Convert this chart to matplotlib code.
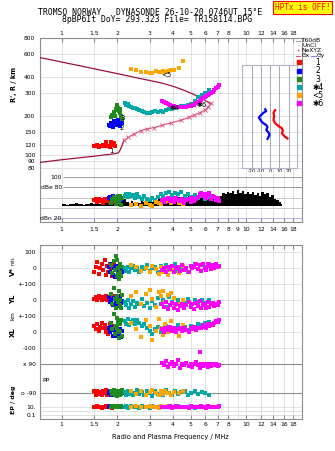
import numpy as np
import matplotlib
matplotlib.use("Agg")
from matplotlib import pyplot as plt
from matplotlib.ticker import NullLocator
from matplotlib.lines import Line2D

## ---- data ----
top_ticks = [1, 1.5, 2, 3, 4, 5, 6, 7, 8, 10, 12, 14, 16, 18]
mid_ticks = [1, 1.5, 2, 3, 4, 5, 6, 7, 8, 9, 10, 12, 14, 16, 18]
h_ticks = [80, 90, 100, 120, 150, 200, 300, 400, 600, 800]

# model / profile lines in the height panel
f_upper = [0.75, 1.0, 1.5, 2.0, 2.5, 3.0, 3.5, 4.0, 4.5, 5.0, 5.5, 6.0, 6.45]
h_upper = [568, 522, 463, 425, 397, 376, 359, 340, 320, 301, 283, 264, 248]
f_lower = [0.75, 1.0, 1.5, 1.9, 2.03, 2.08, 2.13, 2.18]
h_lower = [87.5, 92, 98, 102, 104, 110, 120, 130]
f_nexyz = [2.18, 2.3, 2.47, 2.68, 2.9, 3.17, 3.5, 3.92, 4.44, 4.9, 5.25, 5.6, 5.96, 6.25, 6.43]
h_nexyz = [130, 137, 145, 154, 159, 163, 170, 177, 186, 195, 203, 212, 222, 236, 250]

# echo clusters: freq MHz, height km, amplitude dB, V* m/s, YL km, XL km, PP deg, EP deg
f_red = [1.50, 1.53, 1.56, 1.59, 1.62, 1.65, 1.68, 1.71, 1.73, 1.76, 1.79, 1.82, 1.85, 1.88, 1.91, 1.94]
h_red = [118, 117, 119, 116, 118, 117, 119, 118, 125, 117, 118, 116, 126, 119, 124, 118]
db_red = [55, 57, 52, 58, 54, 56, 50, 57, 53, 58, 55, 52, 56, 54, 51, 57]
v_red = [-20, 10, 40, -35, 5, 25, -10, 50, -40, 15, -25, 30, 0, -45, 20, -5]
yl_red = [10, 20, 5, 25, 15, 0, 20, 10, 30, 5, 15, 20, 0, 10, 25, 15]
xl_red = [40, 20, 55, 10, 35, 60, 25, 45, 0, 30, -10, 50, 15, 40, 20, 5]
pp_red = [-80, -100, -75, -95, -85, -105, -80, -90, -70, -100, -85, -95, -80, -105, -90, -75]
ep_red = [9, 7, 12, 8, 10, 6, 11, 9, 13, 7, 10, 8, 12, 6, 9, 11]

f_blu = [1.80, 1.83, 1.86, 1.89, 1.92, 1.95, 1.98, 2.01, 2.04, 2.07, 2.10, 2.12]
h_blu = [172, 168, 178, 165, 182, 175, 170, 186, 178, 168, 190, 176]
db_blu = [60, 62, 58, 64, 60, 57, 62, 59, 55, 61, 58, 56]
v_blu = [10, -20, 25, -40, 0, -55, 15, -30, -10, -50, 5, -25]
yl_blu = [20, -10, 5, -30, 15, -20, 0, 25, -35, 10, -15, -5]
xl_blu = [30, 0, 40, -20, 15, -25, 35, 5, -10, 20, -28, 10]
pp_blu = [-90, -80, -100, -85, -95, -75, -105, -90, -82, -98, -88, -92]
ep_blu = [10, 12, 9, 11, 8, 13, 10, 9, 12, 10, 11, 9]

f_grn = [1.84, 1.88, 1.91, 1.94, 1.97, 2.00, 2.02, 2.04, 2.06, 2.08, 2.10, 2.12, 1.99, 2.03]
h_grn = [195, 205, 215, 200, 225, 243, 232, 218, 210, 228, 200, 190, 236, 222]
db_grn = [50, 58, 62, 55, 47, 60, 64, 52, 57, 63, 45, 59, 61, 54]
v_grn = [20, -30, 45, -10, 75, -50, 5, -65, 30, -20, -45, 10, 55, -35]
yl_grn = [40, -20, 80, 10, -45, 25, -10, 60, -30, 5, -50, 35, 15, -5]
xl_grn = [60, 20, 115, -10, 40, 90, 0, -35, 50, 10, 75, -20, 30, 65]
pp_grn = [-80, -95, -70, -100, -85, -110, -75, -90, -105, -80, -95, -70, -88, -100]
ep_grn = [10, 12, 8, 15, 9, 11, 7, 13, 10, 9, 12, 8, 14, 10]

f_tea = [2.20, 2.24, 2.28, 2.33, 2.38, 2.44, 2.50, 2.57, 2.64, 2.72, 2.80, 2.90, 3.00, 3.10, 3.20, 3.32,
         3.44, 3.56, 3.68, 3.82, 3.96, 4.12, 4.28, 4.46, 4.65, 4.85, 5.05, 5.28, 5.50, 5.75, 6.00, 6.30]
h_tea = [250, 244, 248, 238, 236, 232, 230, 225, 222, 219, 216, 211, 212, 214, 217, 214,
         217, 216, 221, 225, 228, 229, 235, 238, 240, 243, 248, 262, 278, 292, 302, 315]
db_tea = [64, 66, 61, 67, 63, 65, 60, 66, 62, 58, 63, 57, 55, 59, 56, 62,
          66, 63, 68, 70, 65, 69, 66, 71, 64, 67, 62, 65, 60, 63, 58, 61]
v_tea = [5, -15, 10, -25, 0, 15, -10, 5, -20, 10, -5, 20, -15, 0, 10, -25,
         15, -5, 20, -10, 5, 25, -15, 10, 0, -20, 15, 30, -5, 20, 10, 25]
yl_tea = [-10, -30, 5, -45, -20, -5, -40, -15, -25, 10, -35, -15, -50, -5, -30, 15,
          -20, 0, -40, 20, -10, -30, 5, -25, -15, 10, -20, 0, -10, 5, -15, 0]
xl_tea = [70, 55, 85, 45, 65, 75, 50, 80, 60, 40, 55, 30, 10, -10, 20, 35,
          5, 25, 40, 15, 30, 20, 45, 25, 35, 15, 40, 30, 50, 45, 60, 65]
pp_tea = [-85, -100, -75, -95, -80, -105, -90, -70, -95, -85, -100, -80, -90, -110, -75, -95,
          -85, -100, -70, -90, -105, -80, -95, -85, -75, -100, -90, -80, -95, -85, -90, -100]
ep_tea = [8, 12, 6, 10, 15, 7, 9, 11, 5, 13, 8, 10, 6, 12, 9, 7,
          14, 10, 8, 11, 6, 9, 13, 7, 10, 8, 12, 6, 9, 11, 7, 10]

f_orn = [2.37, 2.52, 2.68, 2.85, 3.00, 3.10, 3.25, 3.37, 3.45, 3.55, 3.65, 3.75, 3.90, 4.08, 4.35, 4.53]
h_orn = [458, 452, 435, 440, 432, 427, 445, 438, 440, 448, 436, 445, 450, 452, 466, 534]
db_orn = [45, 47, 43, 49, 46, 44, 52, 50, 48, 54, 51, 53, 49, 55, 50, 47]
v_orn = [20, 10, -15, 5, -25, 15, -5, -35, 10, -20, 0, -40, -10, 5, -30, 15]
yl_orn = [30, 55, -20, 40, 65, 10, -40, 50, 25, 60, -10, 35, 45, 15, -25, 5]
xl_orn = [60, 20, -30, 75, 40, -45, 10, 85, 25, -15, 50, 0, 70, 30, -20, 45]
pp_orn = [-80, -95, -75, -100, -85, -70, -90, -105, -80, -95, -75, -88, -100, -82, -92, -78]
ep_orn = [9, 12, 7, 10, 14, 8, 11, 6, 13, 9, 10, 12, 8, 11, 7, 10]

f_mag = [3.50, 3.58, 3.66, 3.75, 3.85, 3.95, 4.05, 4.16, 4.27, 4.38, 4.50, 4.62, 4.75, 4.88, 5.00, 5.12,
         5.25, 5.36, 5.48, 5.60, 5.72, 5.84, 5.96, 6.08, 6.20, 6.32, 6.45, 6.58, 6.72, 6.86, 7.00, 7.15]
h_mag = [260, 255, 250, 246, 243, 240, 237, 235, 233, 233, 234, 235, 236, 238, 240, 242,
         245, 250, 256, 262, 268, 274, 281, 286, 291, 296, 300, 308, 318, 327, 336, 345]
db_mag = [55, 52, 58, 60, 54, 57, 51, 59, 56, 53, 58, 50, 55, 57, 52, 60,
          54, 58, 62, 66, 69, 63, 67, 60, 65, 68, 58, 64, 62, 55, 60, 53]
v_mag = [-10, 5, -20, 10, -5, 15, -25, 0, 10, -15, 20, -10, 5, -20, 15, 0,
         10, 30, -5, 20, -15, 25, 5, -10, 30, 15, -5, 20, 0, 25, 10, 15]
yl_mag = [-20, -40, -10, -55, -30, -15, -45, -25, -60, -35, -20, -50, -30, -10, -40, -25,
          -55, -15, -35, -5, -45, -20, -30, -50, -10, -40, -25, -15, -35, -20, -30, -10]
xl_mag = [20, 5, 30, 15, 35, 10, 25, 0, 20, 30, 10, 25, 15, 5, 30, 20,
          35, 15, 25, -120, 30, 45, 35, 25, 50, 40, 55, 45, 60, 70, 65, 80]
pp_mag = [100, 85, 110, 75, 95, 105, 80, 90, 115, 70, 95, 85, 100, 80, 90, 75,
          95, 105, 85, 70, 90, 80, 95, 85, 75, 90, 80, 95, 85, 90, 80, 88]
ep_mag = [8, 11, 7, 10, 13, 6, 9, 12, 8, 10, 7, 11, 9, 6, 12, 8,
          10, 7, 11, 9, 13, 8, 10, 6, 12, 9, 7, 11, 8, 10, 9, 12]

# black amplitude trace (dB)
f_blk = [1.00, 1.04, 1.08, 1.12, 1.16, 1.20, 1.24, 1.28, 1.32, 1.36, 1.40, 1.45, 1.50, 1.55, 1.60,
         1.66, 1.72, 1.78, 1.84, 1.90, 1.96, 2.02, 2.08, 2.14, 2.20, 2.27, 2.34, 2.41, 2.48, 2.56,
         2.64, 2.72, 2.80, 2.89, 2.98, 3.07, 3.17, 3.27, 3.37, 3.48, 3.59, 3.70, 3.82, 3.94, 4.06,
         4.19, 4.32, 4.46, 4.60, 4.75, 4.90, 5.05, 5.21, 5.37, 5.54, 5.71, 5.89, 6.07, 6.26, 6.46,
         6.66, 6.87, 7.08, 7.30, 7.53, 7.76, 8.00, 8.25, 8.51, 8.77, 9.05, 9.33, 9.62, 9.92, 10.2,
         10.5, 10.9, 11.2, 11.6, 11.9, 12.3, 12.7, 13.1, 13.5, 13.9, 14.3, 14.8, 15.2, 15.6]
db_blk = [47, 48, 46, 48, 47, 49, 47, 48, 46, 48, 47, 49, 47, 50, 48,
          51, 49, 52, 50, 53, 55, 58, 56, 60, 57, 52, 50, 53, 49, 52,
          50, 54, 51, 53, 56, 52, 55, 53, 57, 54, 56, 53, 58, 55, 59,
          56, 61, 58, 62, 59, 64, 61, 66, 60, 63, 59, 62, 58, 61, 57,
          60, 56, 59, 64, 69, 66, 71, 68, 73, 67, 74, 69, 72, 66, 70,
          67, 71, 65, 69, 64, 70, 66, 68, 62, 65, 58, 55, 51, 47]
db_floor = 43

# tilt inset: tilt deg vs height km
tilt_b = [-5.4, -4.3, -7.2, -10.9, -12.3, -10.1, -8.0, -4.3, -2.9, -4.3, -1.8, -0.7, -2.9]
tilt_hb = [225, 218, 212, 200, 194, 184, 177, 170, 164, 156, 149, 143, 133]
tilt_r = [5.4, 3.6, 4.3, 3.6, 5.4, 9.0, 12.7, 13.8, 12.7, 16.3, 18.8]
tilt_hr = [222, 212, 200, 186, 176, 167, 161, 154, 147, 138, 134]

## ---- styling ----
RED, BLUE, GREEN, TEAL, ORANGE, MAGENTA = "#ff0000", "#0000ff", "#208a20", "#00a8a8", "#ffa500", "#ff00ff"
DARKRED, PINK = "#a0103c", "#e0507a"
GRID, SPINE, DARKGRID = "#dcdcdc", "#8c8c8c", "#8c8c8c"

clusters = [
    (RED, f_red, h_red, db_red, v_red, yl_red, xl_red, pp_red, ep_red),
    (BLUE, f_blu, h_blu, db_blu, v_blu, yl_blu, xl_blu, pp_blu, ep_blu),
    (GREEN, f_grn, h_grn, db_grn, v_grn, yl_grn, xl_grn, pp_grn, ep_grn),
    (TEAL, f_tea, h_tea, db_tea, v_tea, yl_tea, xl_tea, pp_tea, ep_tea),
    (ORANGE, f_orn, h_orn, db_orn, v_orn, yl_orn, xl_orn, pp_orn, ep_orn),
    (MAGENTA, f_mag, h_mag, db_mag, v_mag, yl_mag, xl_mag, pp_mag, ep_mag),
]

plt.rcParams['font.family'] = ['DejaVu Sans']
W_PX, H_PX = 335, 451


def fx(x):
    return x / W_PX


def fy(y):
    return 1 - y / H_PX


def freq_axis(ax):
    ax.set_xscale('log')
    ax.set_xlim(0.758, 20.1)
    ax.xaxis.set_minor_locator(NullLocator())
    for f in mid_ticks:
        ax.axvline(f, color=GRID, lw=0.6, zorder=0)
    for s in ax.spines.values():
        s.set_color(SPINE)
        s.set_linewidth(0.8)
    ax.tick_params(colors=SPINE, labelcolor='black', labelsize=4.3)


fig = plt.figure(figsize=(3.35, 4.51), dpi=100)
L, W = fx(39.5), (302 - 39.5) / W_PX

## height panel
ax_h = fig.add_axes([L, fy(172), W, (172 - 38) / H_PX])
freq_axis(ax_h)
ax_h.set_yscale('log')
ax_h.set_ylim(74, 800)
ax_h.yaxis.set_minor_locator(NullLocator())
ax_h.set_yticks(h_ticks)
ax_h.set_yticklabels([str(t) for t in h_ticks])
for t in h_ticks:
    ax_h.axhline(t, color=GRID, lw=0.6, zorder=0)
ax_h.xaxis.tick_top()
ax_h.set_xticks(top_ticks)
ax_h.set_xticklabels([str(t) for t in top_ticks])
ax_h.tick_params(axis='x', direction='in', length=3, pad=1.5)
ax_h.tick_params(axis='y', length=0, pad=3)
ax_h.spines['bottom'].set_visible(False)

ax_h.plot(f_upper, h_upper, color=DARKRED, lw=0.9, zorder=3)
ax_h.plot(f_lower, h_lower, color=DARKRED, lw=0.9, zorder=3)
ax_h.plot(f_nexyz, h_nexyz, color=PINK, lw=0.8, marker='x', ms=2.2, mew=0.6, zorder=3)
for c in clusters:
    ax_h.scatter(c[1], c[2], s=8, color=c[0], marker='s', linewidths=0, zorder=4)

for txt, f, h in [("1", 1.86, 108), ("2", 2.11, 162), ("3", 2.14, 192),
                  ("✱4", 4.12, 229), ("<5", 3.68, 418), ("✱6", 5.75, 243)]:
    ax_h.text(f, h, txt, fontsize=5, ha='center', va='center', zorder=6)

## tilt inset
ax_t = fig.add_axes([fx(241.7), fy(167.7), (297.3 - 241.7) / W_PX, (167.7 - 65) / H_PX])
ax_t.set_yscale('log')
ax_t.set_ylim(79.8, 494)
ax_t.set_xlim(-31, 29.5)
ax_t.set_yticks([])
ax_t.yaxis.set_minor_locator(NullLocator())
for t in h_ticks:
    ax_t.axhline(t, color=GRID, lw=0.6, zorder=0)
for t in [-20, -10, 0, 10, 20]:
    ax_t.axvline(t, color="#a4a4bc", lw=0.7, zorder=1)
ax_t.set_xticks([-20, -10, 0, 10, 20])
ax_t.set_xticklabels(['-20', '-10', '0', '10', '20'])
ax_t.tick_params(axis='x', length=0, pad=1, labelsize=3.6)
ax_t.set_xlabel("Tilt / deg", fontsize=3.8, labelpad=0)
for s in ax_t.spines.values():
    s.set_color("#b4b4c8")
    s.set_linewidth(0.8)
ax_t.plot(tilt_b, tilt_hb, color=BLUE, lw=1.6, zorder=3)
ax_t.plot(tilt_r, tilt_hr, color=RED, lw=1.6, zorder=3)

## amplitude panel
ax_d = fig.add_axes([L, fy(222), W, 50 / H_PX])
freq_axis(ax_d)
ax_d.set_ylim(12.4, 109.8)
ax_d.set_yticks([])
ax_d.spines['top'].set_visible(False)
ax_d.set_xticks(mid_ticks)
ax_d.set_xticklabels([str(t) for t in mid_ticks])
ax_d.tick_params(axis='x', direction='in', length=3, pad=3.5)
ax_d.hlines([100, 80], 1.02, 20.1, color=DARKGRID, lw=0.6, zorder=1)
ax_d.axhline(60, color="#c8c8c8", lw=0.7, zorder=1)
ax_d.axhline(40, color="#c8c8c8", lw=0.7, zorder=1)
ax_d.hlines(20, 0.91, 20.1, color="#b4b4e6", lw=0.7, zorder=1)
ax_d.text(1.0, 100, "100", fontsize=4.3, ha='right', va='center')
ax_d.text(1.0, 80, "dBe 80", fontsize=4.3, ha='right', va='center')
ax_d.text(0.765, 20, "dBn 20", fontsize=4.3, ha='left', va='center')
ax_d.fill_between(f_blk, db_floor, db_blk, step='mid', color='black', lw=0, zorder=2)
for c in clusters:
    ax_d.scatter(c[1], c[3], s=8, color=c[0], marker='s', linewidths=0, zorder=4)

## parameter panel
ax_l = fig.add_axes([L, fy(419), W, (419 - 245) / H_PX])
freq_axis(ax_l)
ax_l.set_ylim(-942, 146)
lo_ticks = [100, 0, -100, -200, -300, -400, -500, -600, -780, -865, -915]
lo_labels = ['100', '0', '+-100', '0', '+-100', '0', '-100', 'x 90', 'o -90', '10.', '0.1']
ax_l.set_yticks(lo_ticks)
ax_l.set_yticklabels(lo_labels)
ax_l.tick_params(axis='y', length=0, pad=2.5)
for t in [100, 0, -100, -200, -300, -400, -500, -865, -892, -915]:
    ax_l.axhline(t, color=GRID, lw=0.6, zorder=0)
for t in [-600, -780]:
    ax_l.axhline(t, color=DARKGRID, lw=0.8, zorder=1)
ax_l.set_xticks(top_ticks)
ax_l.set_xticklabels([str(t) for t in top_ticks])
ax_l.tick_params(axis='x', direction='in', length=3, pad=2, top=True)
ax_l.set_xlabel("Radio and Plasma Frequency / MHz", fontsize=4.8, labelpad=5)

for c in clusters:
    col, f = c[0], c[1]
    kw = dict(s=7, color=col, marker='s', linewidths=0, zorder=4)
    ax_l.scatter(f, np.array(c[4]), **kw)
    ax_l.scatter(f, -200 + np.array(c[5]), **kw)
    ax_l.scatter(f, -400 + np.array(c[6]), **kw)
    ax_l.scatter(f, -690 + np.array(c[7]), **kw)
    ax_l.scatter(f, -890 + 25 * np.log10(c[8]), **kw)

## side labels
fig.text(fx(14), fy(84), "R', R / km", rotation=90, fontsize=4.8, fontweight='bold', ha='center', va='center')
fig.text(fx(13), fy(272), "V*", rotation=90, fontsize=5, fontweight='bold', ha='center', va='center')
fig.text(fx(13), fy(261), "m/s", rotation=90, fontsize=3.4, ha='center', va='center')
fig.text(fx(13), fy(299), "YL", rotation=90, fontsize=5, fontweight='bold', ha='center', va='center')
fig.text(fx(13), fy(316), "km", rotation=90, fontsize=4, ha='center', va='center')
fig.text(fx(13), fy(332), "XL", rotation=90, fontsize=5, fontweight='bold', ha='center', va='center')
fig.text(fx(13), fy(400), "EP / deg", rotation=90, fontsize=4.5, fontweight='bold', ha='center', va='center')
fig.text(fx(46), fy(380), "PP", fontsize=4.5, ha='center', va='center')

## header
fig.text(fx(150), fy(12.2), "TROMSO NORWAY   DYNASONDE 26-10-20 0746UT 15°E",
         family='DejaVu Sans Mono', fontsize=5.9, ha='center', va='center')
fig.text(fx(157.5), fy(20), "8pBP6It DoY= 293.323 File= TR158114.BPG",
         family='DejaVu Sans Mono', fontsize=5.9, ha='center', va='center')
fig.text(fx(302.5), fy(7.5), "HPTx is OFF!", family='DejaVu Sans Mono', fontsize=5.6,
         color='red', ha='center', va='center',
         bbox=dict(boxstyle='square,pad=0.25', facecolor='#ffff00', edgecolor='red', lw=0.8))

## legend on the right margin
def seg(x0, x1, y, color, lw=0.8):
    fig.add_artist(Line2D([fx(x0), fx(x1)], [fy(y), fy(y)], color=color, lw=lw, transform=fig.transFigure))

seg(296, 300, 40.7, "#a0a0a0")
fig.text(fx(301.5), fy(40.7), "T60dB", fontsize=4.3, va='center')
fig.text(fx(298), fy(45.7), "·", fontsize=4.3, ha='center', va='center')
fig.text(fx(302.5), fy(45.7), "UnCl", fontsize=4.3, va='center')
fig.text(fx(298), fy(50.7), "+", fontsize=4.3, color=PINK, ha='center', va='center')
fig.text(fx(301.5), fy(50.7), "NeXYZ", fontsize=4.3, va='center')
seg(296, 300, 55.7, PINK)
fig.text(fx(301.5), fy(55.7), "Θx", fontsize=4.3, va='center')
seg(311, 316, 55.7, "#8080e0")
fig.text(fx(317), fy(55.7), "Θy", fontsize=4.3, va='center')

leg_y = [62.3, 70.7, 79, 87, 95, 103.3]
leg_txt = ["1", "2", "3", "✱4", "<5", "✱6"]
for c, y, t in zip(clusters, leg_y, leg_txt):
    fig.add_artist(Line2D([fx(298.7)], [fy(y)], marker='s', ms=2.2, color=c[0], lw=0,
                          transform=fig.transFigure))
    fig.text(fx(318), fy(y), t, fontsize=5.5, ha='center', va='center')

fig.savefig("out.png", dpi=100)
